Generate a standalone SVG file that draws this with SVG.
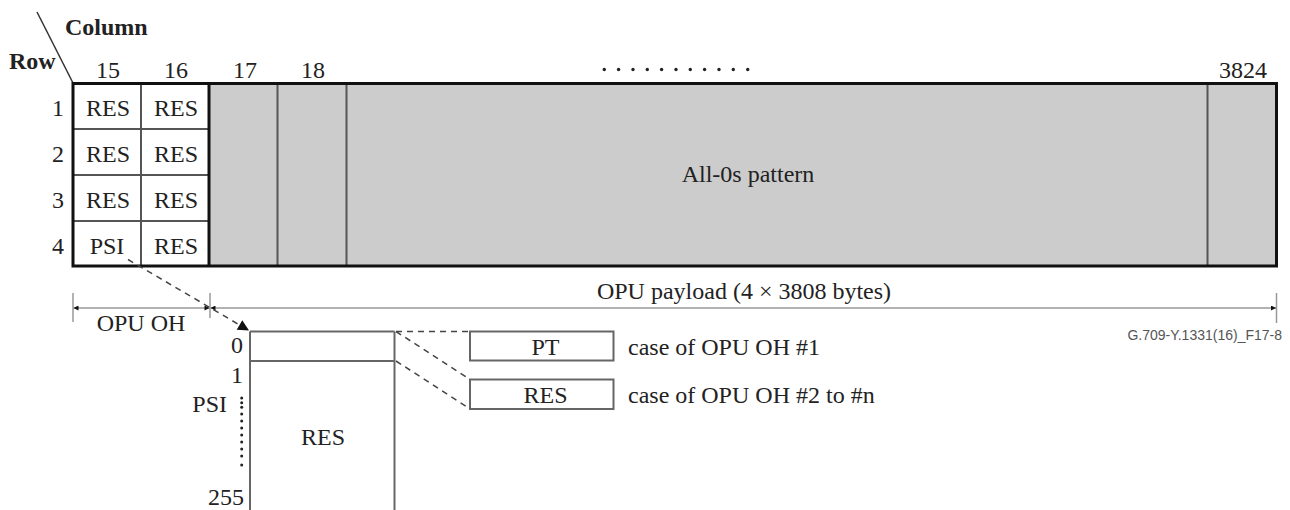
<svg xmlns="http://www.w3.org/2000/svg" width="1290" height="510" viewBox="0 0 1290 510">
<defs>
<style>
text{font-family:"Liberation Serif","Times New Roman",Times,"DejaVu Serif","Noto Serif",serif;font-size:24px;fill:#222}
.b{font-weight:bold;font-size:24px}
.c{text-anchor:middle}
.r{text-anchor:end}
.fig{font-family:"Liberation Sans",Arial,sans-serif;font-size:14px;fill:#555}
.thin{stroke:#555;stroke-width:2;fill:none}
.thick{stroke:#111;stroke-width:3;fill:none}
.dim{stroke:#999;stroke-width:1.5;fill:none}
.dash{stroke:#444;stroke-width:1.5;stroke-dasharray:6 5;fill:none}
.box{stroke:#666;stroke-width:2;fill:#fff}
</style>
<marker id="ah" viewBox="0 0 10 10" refX="10" refY="5" markerWidth="7" markerHeight="5" markerUnits="userSpaceOnUse" orient="auto-start-reverse"><path d="M0,0L10,5L0,10z" fill="#111"/></marker>
<marker id="big" viewBox="0 0 10 10" refX="10" refY="5" markerWidth="12" markerHeight="11" markerUnits="userSpaceOnUse" orient="auto"><path d="M0,0L10,5L0,10z" fill="#111"/></marker>
</defs>

<g id="header">
<line x1="37" y1="12" x2="73" y2="83" stroke="#333" stroke-width="1.5"/>
<text class="b" x="65" y="35">Column</text>
<text class="b" x="9" y="69">Row</text>
<text class="c" x="108" y="78">15</text>
<text class="c" x="176" y="78">16</text>
<text class="c" x="245" y="78">17</text>
<text class="c" x="313" y="78">18</text>
<text class="c" x="1243" y="78">3824</text>
<g fill="#222">
<circle cx="604.3" cy="69.5" r="1.7"/><circle cx="618.6" cy="69.5" r="1.7"/><circle cx="633" cy="69.5" r="1.7"/><circle cx="647.3" cy="69.5" r="1.7"/><circle cx="661.6" cy="69.5" r="1.7"/><circle cx="676" cy="69.5" r="1.7"/><circle cx="690.3" cy="69.5" r="1.7"/><circle cx="704.6" cy="69.5" r="1.7"/><circle cx="719" cy="69.5" r="1.7"/><circle cx="733.3" cy="69.5" r="1.7"/><circle cx="747.7" cy="69.5" r="1.7"/>
</g>
<text class="r" x="64" y="116">1</text>
<text class="r" x="64" y="162">2</text>
<text class="r" x="64" y="208">3</text>
<text class="r" x="64" y="254">4</text>
</g>

<g id="payload">
<rect x="209" y="83.5" width="1067.5" height="182.5" fill="#ccc"/>
<line class="thin" x1="277.5" y1="83.5" x2="277.5" y2="266"/>
<line class="thin" x1="346.5" y1="83.5" x2="346.5" y2="266"/>
<line class="thin" x1="1207.5" y1="83.5" x2="1207.5" y2="266"/>
<text class="c" x="748" y="182">All-0s pattern</text>
</g>

<g id="oh-cells">
<rect x="73" y="83.5" width="136" height="182.5" fill="#fff"/>
<line class="thin" x1="141" y1="83.5" x2="141" y2="266"/>
<line class="thin" x1="73" y1="129" x2="209" y2="129"/>
<line class="thin" x1="73" y1="175" x2="209" y2="175"/>
<line class="thin" x1="73" y1="221" x2="209" y2="221"/>
<text class="c" x="108" y="116">RES</text><text class="c" x="176" y="116">RES</text>
<text class="c" x="108" y="162">RES</text><text class="c" x="176" y="162">RES</text>
<text class="c" x="108" y="208">RES</text><text class="c" x="176" y="208">RES</text>
<text class="c" x="107" y="254">PSI</text><text class="c" x="176" y="254">RES</text>
</g>

<g id="frame">
<rect class="thick" x="73" y="83.5" width="1203.5" height="182.5"/>
<line class="thick" x1="209" y1="83.5" x2="209" y2="266"/>
</g>

<g id="dimensions">
<line class="dim" x1="73" y1="293" x2="73" y2="322"/>
<line class="dim" x1="210" y1="293" x2="210" y2="318"/>
<line class="dim" x1="1276.5" y1="293" x2="1276.5" y2="323"/>
<line class="dim" x1="73.5" y1="308" x2="209.5" y2="308" marker-start="url(#ah)" marker-end="url(#ah)"/>
<line class="dim" x1="210.5" y1="308" x2="1276" y2="308" marker-start="url(#ah)" marker-end="url(#ah)"/>
<text class="c" x="141" y="331">OPU OH</text>
<text class="c" x="744" y="299">OPU payload (4 × 3808 bytes)</text>
<text class="fig" x="1282" y="340" text-anchor="end">G.709-Y.1331(16)_F17-8</text>
</g>

<g id="psi-box">
<line class="box" x1="250" y1="331.5" x2="250" y2="512"/>
<line class="box" x1="394.5" y1="331.5" x2="394.5" y2="512"/>
<line class="box" x1="250" y1="331.5" x2="394.5" y2="331.5"/>
<line class="box" x1="250" y1="361" x2="394.5" y2="361"/>
<text class="r" x="243" y="353">0</text>
<text class="r" x="243" y="383">1</text>
<text class="r" x="227" y="412">PSI</text>
<text class="r" x="244" y="505">255</text>
<g fill="#222">
<circle cx="241.7" cy="398" r="1.5"/><circle cx="241.7" cy="402.7" r="1.5"/><circle cx="241.7" cy="407.3" r="1.5"/><circle cx="241.7" cy="414" r="1.5"/><circle cx="241.7" cy="421" r="1.5"/><circle cx="241.7" cy="428" r="1.5"/><circle cx="241.7" cy="435" r="1.5"/><circle cx="241.7" cy="442" r="1.5"/><circle cx="241.7" cy="449" r="1.5"/><circle cx="241.7" cy="456" r="1.5"/><circle cx="241.7" cy="465" r="1.5"/>
</g>
<text class="c" x="323" y="445">RES</text>
</g>

<g id="pt-box">
<rect class="box" x="470" y="331.5" width="143.5" height="29"/>
<text class="c" x="545.5" y="355">PT</text>
<text x="628" y="355">case of OPU OH #1</text>
</g>

<g id="res-box">
<rect class="box" x="470" y="379.5" width="143.5" height="29.5"/>
<text class="c" x="545.5" y="403">RES</text>
<text x="628" y="403">case of OPU OH #2 to #n</text>
</g>

<g id="connectors">
<line class="dash" x1="128" y1="259.5" x2="249" y2="330.5" marker-end="url(#big)"/>
<line class="dash" x1="396" y1="331.5" x2="470" y2="331.5"/>
<line class="dash" x1="396" y1="331.5" x2="470" y2="379.5"/>
<line class="dash" x1="396" y1="361" x2="470" y2="409"/>
</g>
</svg>
